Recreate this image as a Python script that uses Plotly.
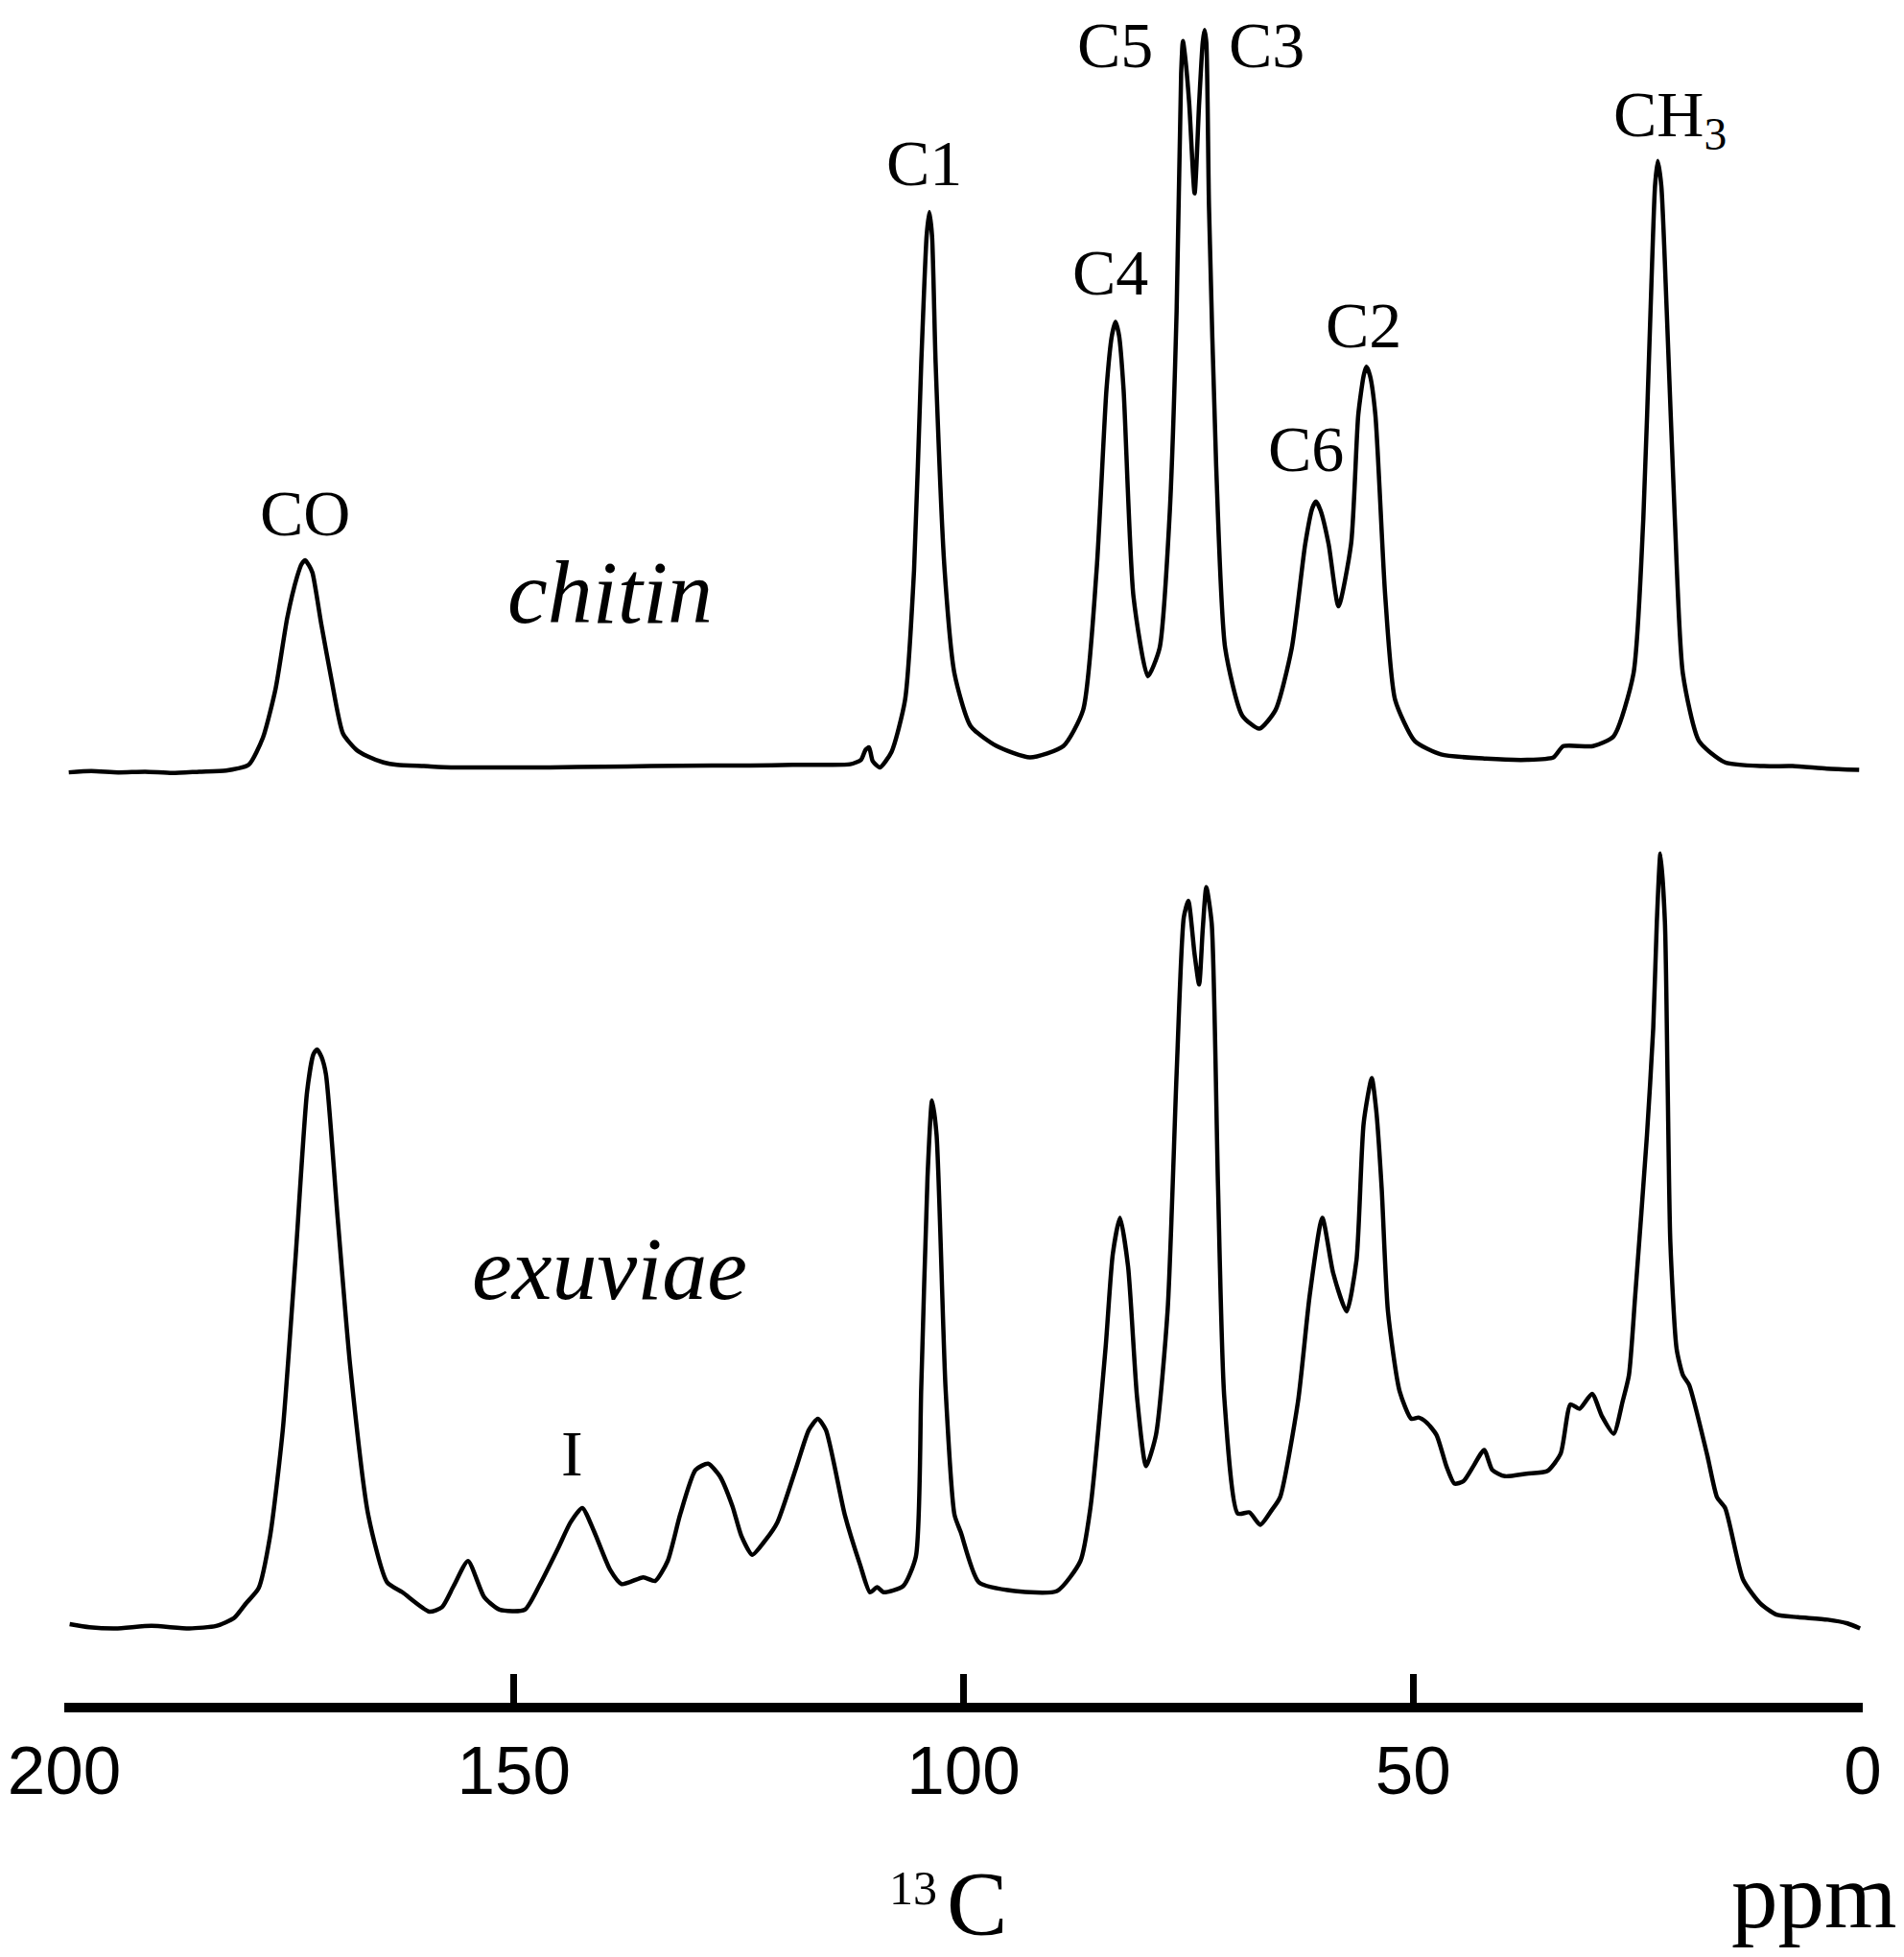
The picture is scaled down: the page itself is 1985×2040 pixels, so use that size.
import plotly.graph_objects as go

# -------------------- Data --------------------

# chemical shift (ppm) and intensity (arbitrary units) of the chitin spectrum
chitin_ppm = [199.5, 197.0, 194.0, 191.0, 188.0, 185.0, 182.0, 179.5, 177.9, 176.5,
              175.2, 174.1, 173.6, 173.2, 172.8, 172.4, 171.4, 170.3, 169.0, 167.5,
              166.3, 164.5, 163.0, 160.0, 157.0, 152.0, 146.0, 140.0, 134.8, 128.0,
              123.7, 119.0, 115.0, 112.6, 111.4, 110.9, 110.5, 110.1, 109.3, 108.0,
              106.5, 105.5, 104.7, 104.1, 103.8, 103.5, 103.1, 102.1, 101.0, 99.2,
              96.3, 92.6, 88.9, 86.7, 85.2, 84.1, 83.5, 83.1, 82.7, 82.2,
              81.1, 79.5, 78.2, 77.1, 76.3, 75.8, 75.6, 75.3, 74.9, 74.3,
              73.8, 73.4, 73.2, 73.0, 72.7, 71.9, 70.9, 69.0, 67.1, 65.3,
              63.5, 62.0, 61.2, 60.8, 60.3, 59.4, 58.3, 56.9, 56.1, 55.5,
              55.2, 54.8, 54.2, 53.1, 52.0, 49.8, 46.9, 41.9, 37.3, 34.4,
              33.3, 30.0, 27.7, 25.5, 24.4, 23.6, 23.1, 22.8, 22.4, 21.8,
              20.9, 20.0, 18.2, 15.3, 11.0, 7.8, 4.0, 0.4]
chitin_int = [0, 1, 0, 0.5, -0.5, 0.5, 1.5, 6, 28, 67,
              124, 157, 167, 170, 166, 160, 118, 75, 31, 18,
              13, 8, 6, 5, 4, 4, 4, 4.5, 5, 5.5,
              5.5, 6, 6, 6.5, 10, 18, 20, 9, 4, 16.5,
              58, 162, 328, 430, 449, 430, 328, 162, 79, 37,
              21, 12, 21, 50, 162, 307, 350, 361, 350, 307,
              141, 77, 99.5, 203.5, 370, 560, 586, 570, 536, 464,
              536, 585, 595, 585, 453, 245, 99.5, 45.5, 35, 50,
              99.5, 183, 212, 217, 210, 183, 133, 183, 286.6, 318,
              325, 318, 286.6, 141, 58, 25, 14.4, 11, 10, 12,
              21, 21, 29, 79, 203.5, 370, 470, 490, 470, 370,
              203.5, 79, 25, 8, 5, 5, 3, 2]

# chemical shift (ppm) and intensity (arbitrary units) of the exuviae spectrum
exuviae_ppm = [199.4, 197.2, 194.3, 190.3, 186.1, 183.1, 181.1, 179.8, 178.4, 177.1,
               175.7, 174.3, 173.0, 172.3, 171.9, 171.4, 170.9, 169.6, 168.2, 166.2,
               164.1, 162.4, 159.4, 158.0, 156.7, 155.1, 153.3, 151.6, 148.8, 147.2,
               145.1, 143.7, 142.4, 141.1, 139.3, 138.0, 135.6, 134.3, 132.9, 131.5,
               129.8, 128.4, 127.1, 125.7, 124.7, 123.5, 122.0, 120.7, 118.6, 117.2,
               116.2, 115.3, 113.2, 111.5, 110.4, 109.6, 108.9, 106.7, 105.3, 104.7,
               104.0, 103.5, 103.0, 102.0, 101.0, 100.3, 98.3, 94.3, 89.6, 87.0,
               85.9, 84.2, 83.4, 82.6, 81.7, 80.7, 79.7, 78.6, 77.3, 76.3,
               75.5, 75.0, 74.3, 73.8, 73.4, 73.0, 72.4, 71.7, 71.0, 69.5,
               68.2, 67.0, 65.7, 64.8, 62.8, 61.5, 60.1, 58.9, 57.4, 56.3,
               55.5, 54.6, 54.1, 53.5, 52.8, 51.5, 50.2, 49.4, 48.5, 47.4,
               46.3, 45.4, 44.4, 43.3, 42.1, 41.2, 39.8, 37.4, 35.1, 33.6,
               32.5, 31.5, 30.1, 29.0, 27.7, 26.7, 26.0, 25.3, 24.0, 23.3,
               22.9, 22.5, 22.0, 21.7, 21.4, 20.7, 20.0, 19.3, 17.3, 16.2,
               15.3, 13.3, 11.4, 9.6, 7.2, 3.9, 1.7, 0.3]
exuviae_int = [3.5, 1, 0, 2, 0, 2, 8.4, 20, 32, 74.5,
               159, 295, 430, 460, 464, 458, 444, 329, 210, 91,
               37, 29, 13.5, 17, 34, 54, 25, 15, 15, 34,
               64, 85, 96.5, 78, 47, 35.5, 41, 38, 54, 91.5,
               127, 132, 122, 98, 74, 59, 71, 85, 129, 159,
               168, 159, 91, 51, 29, 33, 29, 34, 57.5, 193,
               362, 423, 396, 193, 91, 77, 37, 30, 30, 54,
               96, 225, 300, 329, 290, 185, 130, 155, 255, 445,
               570, 583, 540, 516, 560, 594, 565, 355, 185, 92,
               93, 83, 95, 105, 182, 267, 329, 285, 254, 295,
               405, 441, 415, 353, 254, 190, 168, 169, 165, 155,
               130, 116, 118, 130, 143, 127, 122, 124, 126, 140,
               179.5, 176, 188, 170, 156, 182, 203, 267, 395, 481,
               566, 621, 566, 438, 310, 224, 203, 195, 139, 105,
               96.5, 39, 20, 11, 9, 7, 4, 0]

# vertical shift that stacks the chitin trace above the exuviae trace
CHITIN_OFFSET = 686

ppm_ticks = [200, 150, 100, 50, 0]

# peak labels: text, ppm, height on the stacked axis
peak_labels = ["CO", "C1", "C4", "C6", "C2", "CH<sub>3</sub>", "I"]
peak_label_ppm = [173.2, 104.4, 83.7, 61.9, 55.5, 21.45, 143.5]
peak_label_y = [894, 1174, 1087, 945, 1044, 1210, 140]

# the two labels that sit against the top edge
top_labels = ["C5", "C3"]
top_label_ppm = [83.2, 66.3]

SERIF = "Liberation Serif, Times New Roman, serif"
SANS = "Liberation Sans, Arial, Helvetica, sans-serif"
LABEL_SIZE = 68

# -------------------- Figure --------------------

fig = go.Figure()

fig.add_trace(go.Scatter(
    x=chitin_ppm,
    y=[v + CHITIN_OFFSET for v in chitin_int],
    mode="lines",
    line=dict(color="black", width=4.5, shape="spline", smoothing=0.6),
    showlegend=False,
))

fig.add_trace(go.Scatter(
    x=exuviae_ppm,
    y=exuviae_int,
    mode="lines",
    line=dict(color="black", width=4.5, shape="spline", smoothing=0.6),
    showlegend=False,
))

# ---------- peak assignments ----------
for txt, px_, py_ in zip(peak_labels, peak_label_ppm, peak_label_y):
    fig.add_annotation(x=px_, y=py_, text=txt, showarrow=False,
                       xanchor="center", yanchor="middle",
                       font=dict(family=SERIF, size=LABEL_SIZE, color="black"))

for txt, px_ in zip(top_labels, top_label_ppm):
    fig.add_annotation(x=px_, xref="x", y=1, yref="paper", text=txt,
                       showarrow=False, xanchor="center", yanchor="top",
                       borderpad=0,
                       font=dict(family=SERIF, size=LABEL_SIZE, color="black"))

# ---------- sample names ----------
fig.add_annotation(x=139.3, y=831, text="<i>chitin</i>", showarrow=False,
                   xanchor="center", yanchor="middle",
                   font=dict(family=SERIF, size=94, color="black"))
fig.add_annotation(x=139.4, y=289, text="<i>exuviae</i>", showarrow=False,
                   xanchor="center", yanchor="middle",
                   font=dict(family=SERIF, size=94, color="black"))

# ---------- axis title pieces ----------
fig.add_annotation(xref="paper", yref="paper", x=0.472, y=-0.1095, text="13",
                   showarrow=False, xanchor="center", yanchor="middle",
                   font=dict(family=SERIF, size=50, color="black"))
fig.add_annotation(xref="paper", yref="paper", x=0.5072, y=-0.1495, text="C",
                   showarrow=False, xanchor="center", yanchor="bottom",
                   borderpad=0,
                   font=dict(family=SERIF, size=95, color="black"))
fig.add_annotation(xref="paper", yref="paper", x=0.9728, y=-0.1143, text="ppm",
                   showarrow=False, xanchor="center", yanchor="middle",
                   font=dict(family=SERIF, size=97, color="black"))

fig.update_xaxes(
    range=[200, 0],
    tickvals=ppm_ticks,
    ticktext=[str(t) for t in ppm_ticks],
    ticks="inside", ticklen=30, tickwidth=7, tickcolor="black",
    showline=True, linewidth=10, linecolor="black",
    showgrid=False, zeroline=False, automargin=False,
    ticklabeloverflow="allow",
    tickfont=dict(family=SANS, size=71, color="black"),
)
fig.update_yaxes(range=[-59.6, 1298.8], visible=False, automargin=False)

# the page adds an 8 px body margin, so the figure is 8 px smaller each way
fig.update_layout(
    width=1977, height=2032,
    margin=dict(l=59, r=43, t=0, b=265),
    plot_bgcolor="white", paper_bgcolor="white",
)

fig.write_html("out.html")
